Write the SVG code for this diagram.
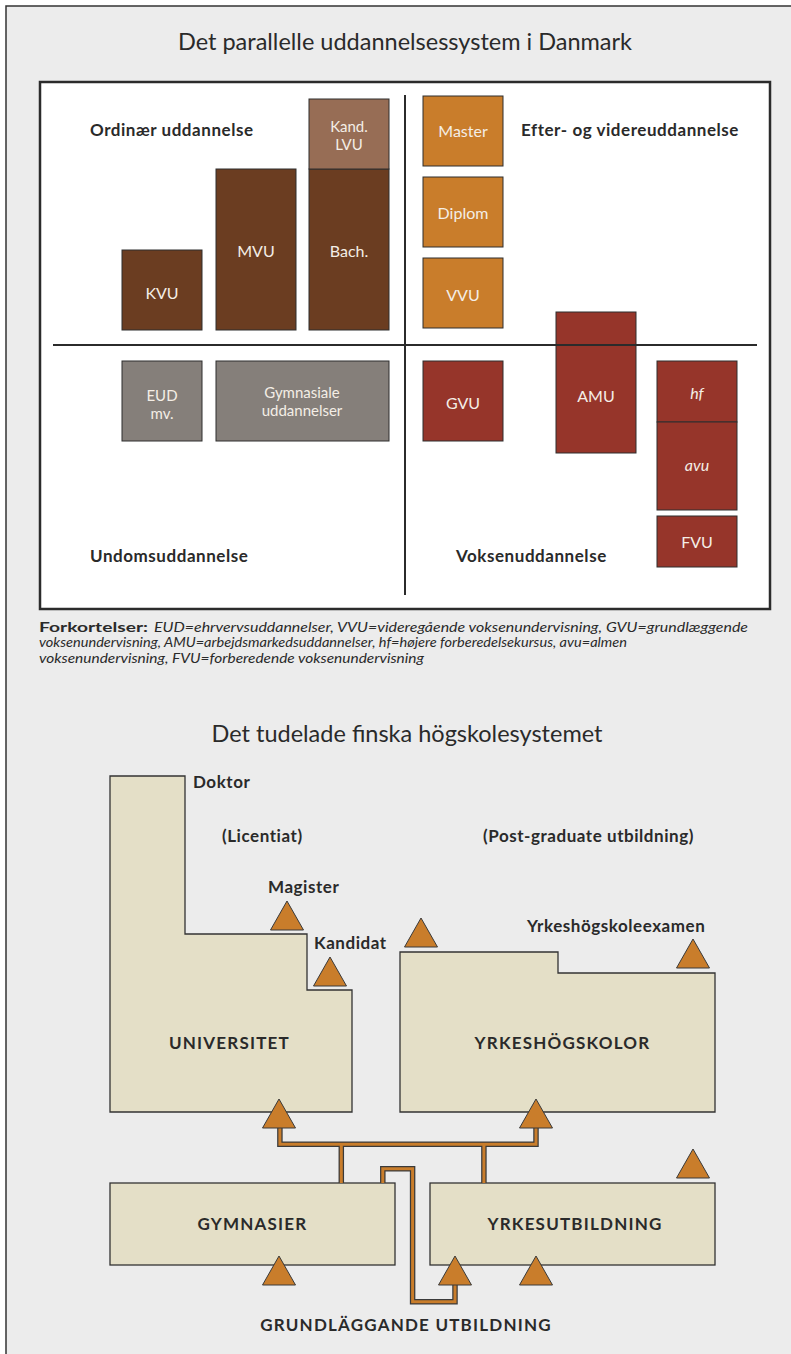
<svg xmlns="http://www.w3.org/2000/svg" width="791" height="1354" viewBox="0 0 791 1354">
<defs>
<style>
.t{font-family:Lato,"Open Sans","Liberation Sans",sans-serif;fill:#2a2a2a}
.title{font-size:23.5px;text-anchor:middle}
.lab{font-size:17px;font-weight:bold;letter-spacing:0.55px}
.cap{font-size:17px;font-weight:bold;text-anchor:middle;letter-spacing:1.2px}
.bx{stroke:#2e2e2e;stroke-width:1}
.bt{font-family:Lato,"Open Sans","Liberation Sans",sans-serif;font-size:16px;fill:#f4eee6;text-anchor:middle}
.bt2{font-size:15px}
.brown{fill:#6b3d21}.lbrown{fill:#976d55}.orange{fill:#c97d2b}.red{fill:#96352a}.grey{fill:#857f7a}
.shape{fill:#e4dfc7;stroke:#333;stroke-width:1.3}
.pipeo{fill:none;stroke:#3a3a3a;stroke-width:5.5;stroke-linejoin:miter}
.pipei{fill:none;stroke:#c97d2b;stroke-width:3;stroke-linejoin:miter}
.leg{font-family:Lato,"Open Sans","Liberation Sans",sans-serif;font-size:14px;fill:#2a2a2a;font-style:italic}
.legb{font-family:Lato,"Open Sans","Liberation Sans",sans-serif;font-size:14px;fill:#2a2a2a;font-weight:bold}
</style>
<path id="tri" d="M0,0 L16.5,29 L-16.5,29 Z" fill="#c97d2b" stroke="#3a3a3a" stroke-width="1"/>
</defs>
<rect x="0" y="0" width="791" height="1354" fill="#ffffff"/>
<rect x="6" y="6" width="785" height="1348" fill="#ececec"/>
<path d="M6,1354 V6 H791" fill="none" stroke="#333" stroke-width="1.5"/>

<text class="t title" x="405" y="50">Det parallelle uddannelsessystem i Danmark</text>
<rect x="40" y="82" width="730" height="527" fill="#ffffff" stroke="#2b2b2b" stroke-width="2.5"/>
<g id="dividers">
<line x1="53" y1="345" x2="757" y2="345" stroke="#2b2b2b" stroke-width="2"/>
<line x1="405" y1="95" x2="405" y2="595" stroke="#2b2b2b" stroke-width="2"/>
</g>

<text class="t lab" x="90" y="136">Ordinær uddannelse</text>
<text class="t lab" x="521" y="136">Efter- og videreuddannelse</text>
<text class="t lab" x="90" y="562">Undomsuddannelse</text>
<text class="t lab" x="456" y="562">Voksenuddannelse</text>

<g id="kvu"><rect class="bx brown" x="122" y="250" width="80" height="80"/><text class="bt" x="162" y="299">KVU</text></g>
<g id="mvu"><rect class="bx brown" x="216" y="169" width="80" height="161"/><text class="bt" x="256" y="257">MVU</text></g>
<g id="bach"><rect class="bx brown" x="309" y="169" width="80" height="161"/><text class="bt" x="349" y="257">Bach.</text></g>
<g id="kand"><rect class="bx lbrown" x="309" y="99" width="80" height="70"/><text class="bt bt2" x="349" y="132">Kand.</text><text class="bt bt2" x="349" y="150">LVU</text></g>
<g id="master"><rect class="bx orange" x="423" y="96" width="80" height="70"/><text class="bt" x="463" y="137">Master</text></g>
<g id="diplom"><rect class="bx orange" x="423" y="177" width="80" height="70"/><text class="bt" x="463" y="219">Diplom</text></g>
<g id="vvu"><rect class="bx orange" x="423" y="258" width="80" height="70"/><text class="bt" x="463" y="301">VVU</text></g>
<g id="eud"><rect class="bx grey" x="122" y="361" width="80" height="80"/><text class="bt bt2" x="162" y="401">EUD</text><text class="bt bt2" x="162" y="419">mv.</text></g>
<g id="gymnasiale"><rect class="bx grey" x="216" y="361" width="173" height="80"/><text class="bt bt2" x="302" y="398">Gymnasiale</text><text class="bt bt2" x="302" y="416">uddannelser</text></g>
<g id="gvu"><rect class="bx red" x="423" y="361" width="80" height="80"/><text class="bt" x="463" y="409">GVU</text></g>
<g id="amu"><rect class="bx red" x="556" y="312" width="80" height="141"/><text class="bt" x="596" y="402">AMU</text></g>
<line x1="556" y1="345" x2="636" y2="345" stroke="#2b2b2b" stroke-width="2"/>
<g id="hf"><rect class="bx red" x="657" y="361" width="80" height="61"/><text class="bt" x="697" y="399" font-style="italic">hf</text></g>
<g id="avu"><rect class="bx red" x="657" y="422" width="80" height="88"/><text class="bt" x="697" y="471" font-style="italic">avu</text></g>
<g id="fvu"><rect class="bx red" x="657" y="516" width="80" height="51"/><text class="bt" x="697" y="548">FVU</text></g>

<g id="legend">
<text class="legb" x="39" y="632" textLength="109" lengthAdjust="spacingAndGlyphs">Forkortelser:</text>
<text class="leg" x="154" y="632" textLength="594" lengthAdjust="spacingAndGlyphs">EUD=ehrvervsuddannelser, VVU=videregående voksenundervisning, GVU=grundlæggende</text>
<text class="leg" x="39" y="647" textLength="588" lengthAdjust="spacingAndGlyphs">voksenundervisning, AMU=arbejdsmarkedsuddannelser, hf=højere forberedelsekursus, avu=almen</text>
<text class="leg" x="39" y="663" textLength="385" lengthAdjust="spacingAndGlyphs">voksenundervisning, FVU=forberedende voksenundervisning</text>
</g>

<text class="t title" x="407" y="742">Det tudelade finska högskolesystemet</text>

<g id="universitet">
<path class="shape" d="M110,776 H185 V934 H307 V990 H352 V1112 H110 Z"/>
<text class="t cap" x="229.5" y="1049">UNIVERSITET</text>
</g>
<g id="yrkeshogskolor">
<path class="shape" d="M400,952 H558 V973 H715 V1112 H400 Z"/>
<text class="t cap" x="562.5" y="1049">YRKESHÖGSKOLOR</text>
</g>
<g id="gymnasier">
<rect class="shape" x="110" y="1183" width="285" height="82"/>
<text class="t cap" x="252.5" y="1230">GYMNASIER</text>
</g>
<g id="yrkesutbildning">
<rect class="shape" x="430" y="1183" width="285" height="82"/>
<text class="t cap" x="575" y="1230">YRKESUTBILDNING</text>
</g>

<g id="connectors">
<path class="pipeo" d="M279.9,1128 V1144.2 H536 V1128"/>
<path class="pipeo" d="M341.3,1144.2 V1183 M483.9,1144.2 V1183"/>
<path class="pipeo" d="M382.8,1183 V1168.7 H412.6 V1301.7 H455 V1284"/>
<path class="pipei" d="M279.9,1128 V1144.2 H536 V1128"/>
<path class="pipei" d="M341.3,1144.2 V1183 M483.9,1144.2 V1183"/>
<path class="pipei" d="M382.8,1183 V1168.7 H412.6 V1301.7 H455 V1284"/>
</g>

<g id="triangles">
<use href="#tri" x="287" y="901"/>
<use href="#tri" x="330" y="957"/>
<use href="#tri" x="421" y="918"/>
<use href="#tri" x="693" y="939"/>
<use href="#tri" x="279" y="1099"/>
<use href="#tri" x="536" y="1099"/>
<use href="#tri" x="693" y="1149"/>
<use href="#tri" x="279" y="1256"/>
<use href="#tri" x="455" y="1256"/>
<use href="#tri" x="536" y="1256"/>
</g>

<g id="labels">
<text class="t lab" x="193" y="788">Doktor</text>
<text class="t lab" x="222" y="842">(Licentiat)</text>
<text class="t lab" x="483" y="842">(Post-graduate utbildning)</text>
<text class="t lab" x="268" y="893">Magister</text>
<text class="t lab" x="314" y="949">Kandidat</text>
<text class="t lab" x="527" y="932">Yrkeshögskoleexamen</text>
<text class="t cap" x="406" y="1331">GRUNDLÄGGANDE UTBILDNING</text>
</g>
</svg>
